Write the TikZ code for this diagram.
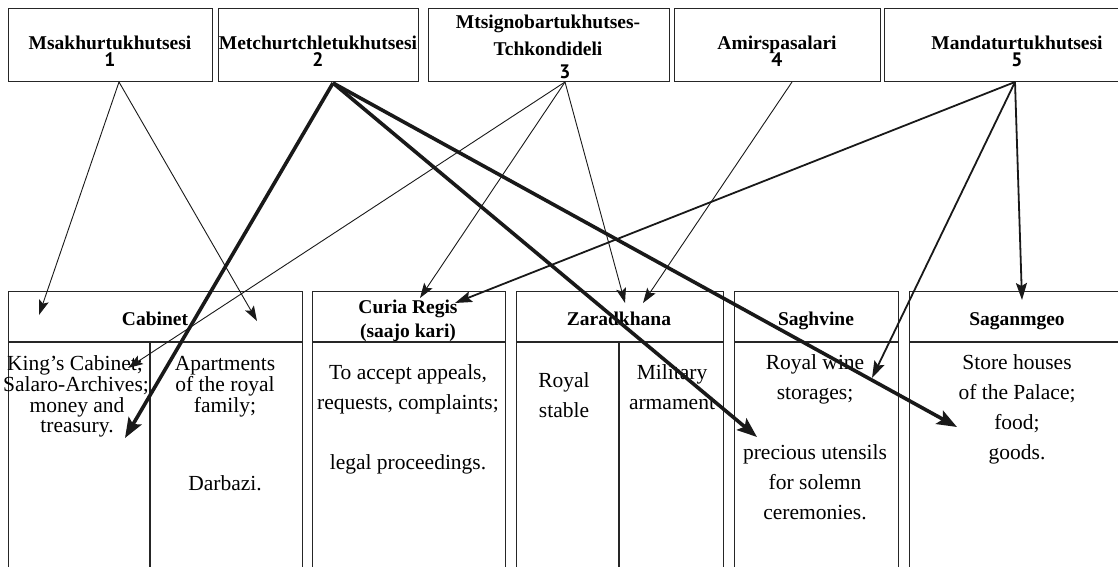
\documentclass[tikz,border=0pt]{standalone}
\usepackage{fontspec}
\setmainfont{Liberation Serif}
\newfontfamily\numfont{PT Sans}
\usetikzlibrary{arrows.meta}
\begin{document}
\begin{tikzpicture}[x=1pt,y=-1pt,
  box/.style={draw=black!85, line width=1.2pt, inner sep=0pt, anchor=north west},
  ttl/.style={font=\bfseries\fontsize{19.5}{20}\selectfont, anchor=base, inner sep=0pt},
  num/.style={font=\numfont\bfseries\fontsize{19.5}{20}\selectfont, anchor=base, inner sep=0pt},
  body/.style={font=\fontsize{21.5}{22}\selectfont, anchor=base, inner sep=0pt},
  thinarr/.style={draw=black!90, line width=0.9pt, -{Stealth[length=15pt,width=10pt,inset=3pt]}},
  medarr/.style={draw=black!90, line width=1.8pt, -{Stealth[length=17pt,width=11pt,inset=3pt]}},
  thickarr/.style={draw=black!90, line width=3.6pt, -{Stealth[length=20pt,width=15pt,inset=4pt]}},
]
\useasboundingbox (0,0) rectangle (1118,566);
\clip (0,0) rectangle (1118,566);
% top boxes
\node[box, minimum width=204pt, minimum height=73pt] (b1) at (8,8) {};
\node[box, minimum width=200pt, minimum height=73pt] (b2) at (218,8) {};
\node[box, minimum width=241pt, minimum height=73pt] (b3) at (428,8) {};
\node[box, minimum width=206pt, minimum height=73pt] (b4) at (674,8) {};
\node[box, minimum width=267pt, minimum height=73pt] (b5) at (884,8) {};
\node[ttl] (b1t) at (110,49) {Msakhurtukhutsesi};
\node[num] (b1n) at (110,66) {1};
\node[ttl] (b2t) at (318,49) {Metchurtchletukhutsesi};
\node[num] (b2n) at (318,66) {2};
\node[ttl] (b3t) at (548,28) {Mtsignobartukhutses-};
\node[ttl] (b3u) at (548,55) {Tchkondideli};
\node[num] (b3n) at (565,78) {3};
\node[ttl] (b4t) at (777,49) {Amirspasalari};
\node[num] (b4n) at (777,66) {4};
\node[ttl] (b5t) at (1017,49) {Mandaturtukhutsesi};
\node[num] (b5n) at (1017,66) {5};
% bottom boxes
\node[box, minimum width=294pt, minimum height=330pt] (cab) at (8,291) {};
\node[box, minimum width=193pt, minimum height=330pt] (cur) at (312,291) {};
\node[box, minimum width=207pt, minimum height=330pt] (zar) at (516,291) {};
\node[box, minimum width=164pt, minimum height=330pt] (sag) at (734,291) {};
\node[box, minimum width=216pt, minimum height=330pt] (sgm) at (909,291) {};
\draw[box] (8,342) -- (302,342);
\draw[box] (312,342) -- (505,342);
\draw[box] (516,342) -- (723,342);
\draw[box] (734,342) -- (898,342);
\draw[box] (909,342) -- (1125,342);
\draw[box] (150,342) -- (150,620);
\draw[box] (619,342) -- (619,620);
% headers
\node[ttl] (cabh) at (155,325) {Cabinet};
\node[ttl] (curh1) at (408,313) {Curia Regis};
\node[ttl] (curh2) at (408,337) {(saajo kari)};
\node[ttl] (zarh) at (619,325) {Zaradkhana};
\node[ttl] (sagh) at (816,325) {Saghvine};
\node[ttl] (sgmh) at (1017,325) {Saganmgeo};
% body texts
\node[body] (c1a) at (75,370) {King’s Cabinet;};
\node[body] (c1b) at (76,391) {Salaro-Archives;};
\node[body] (c1c) at (77,412) {money and};
\node[body] (c1d) at (77,432) {treasury.};
\node[body] (c2a) at (225,370) {Apartments};
\node[body] (c2b) at (225,391) {of the royal};
\node[body] (c2c) at (225,412) {family;};
\node[body] (c2d) at (225,490) {Darbazi.};
\node[body] (c3a) at (408,379) {To accept appeals,};
\node[body] (c3b) at (408,409) {requests, complaints;};
\node[body] (c3c) at (408,469) {legal proceedings.};
\node[body] (c4a) at (564,387) {Royal};
\node[body] (c4b) at (564,417) {stable};
\node[body] (c5a) at (672,379) {Military};
\node[body] (c5b) at (672,409) {armament};
\node[body] (c6a) at (815,369) {Royal wine};
\node[body] (c6b) at (815,399) {storages;};
\node[body] (c6c) at (815,459) {precious utensils};
\node[body] (c6d) at (815,489) {for solemn};
\node[body] (c6e) at (815,519) {ceremonies.};
\node[body] (c7a) at (1017,369) {Store houses};
\node[body] (c7b) at (1017,399) {of the Palace;};
\node[body] (c7c) at (1017,429) {food;};
\node[body] (c7d) at (1017,459) {goods.};
% connector points
\coordinate (s1) at (119,82);
\coordinate (s2) at (333,83);
\coordinate (s3) at (565,82);
\coordinate (s4) at (792,82);
\coordinate (s5) at (1015,82);
\coordinate (t1a) at (39,315);
\coordinate (t1b) at (257,321);
\coordinate (t2a) at (125,438);
\coordinate (t2b) at (757,437);
\coordinate (t2c) at (957,427);
\coordinate (t3a) at (128,368);
\coordinate (t3b) at (420,298);
\coordinate (t3c) at (625,303);
\coordinate (t4) at (643,303);
\coordinate (t5a) at (455,303);
\coordinate (t5b) at (872,378);
\coordinate (t5c) at (1022,300);
% connectors
\draw[thinarr] (s1) -- (t1a);
\draw[thinarr] (s1) -- (t1b);
\draw[thinarr] (s3) -- (t3a);
\draw[thinarr] (s3) -- (t3b);
\draw[thinarr] (s3) -- (t3c);
\draw[thinarr] (s4) -- (t4);
\draw[medarr] (s5) -- (t5a);
\draw[medarr] (s5) -- (t5b);
\draw[medarr] (s5) -- (t5c);
\draw[thickarr] (s2) -- (t2a);
\draw[thickarr] (s2) -- (t2b);
\draw[thickarr] (s2) -- (t2c);
\end{tikzpicture}
\end{document}
